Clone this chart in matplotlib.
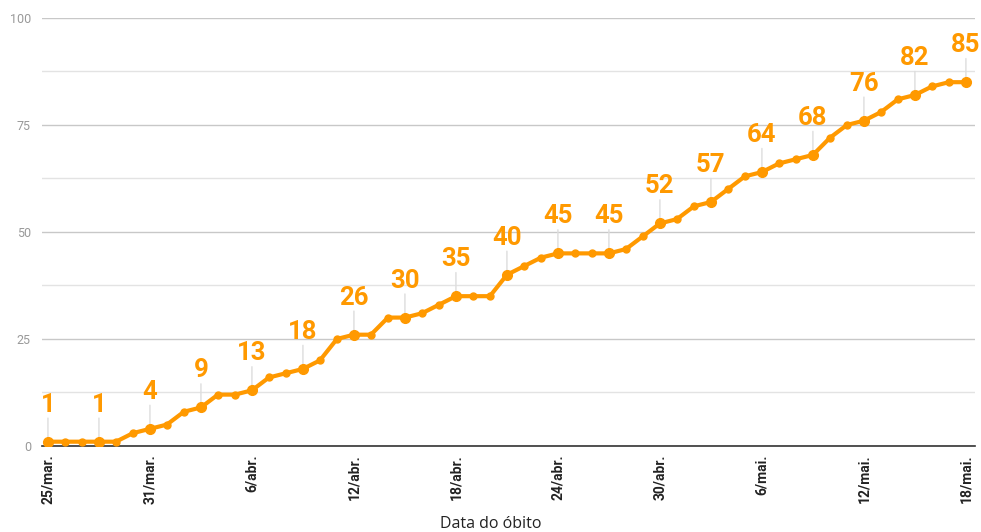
import matplotlib.pyplot as plt
from matplotlib.ticker import MultipleLocator

# Óbitos acumulados por dia (25/mar. a 18/mai.)
obitos = [1, 1, 1, 1, 1, 3, 4, 5, 8, 9,
          12, 12, 13, 16, 17, 18, 20, 25, 26, 26,
          30, 30, 31, 33, 35, 35, 35, 40, 42, 44,
          45, 45, 45, 45, 46, 49, 52, 53, 56, 57,
          60, 63, 64, 66, 67, 68, 72, 75, 76, 78,
          81, 82, 84, 85, 85]
rotulos_x = ['25/mar.', '31/mar.', '6/abr.', '12/abr.', '18/abr.',
             '24/abr.', '30/abr.', '6/mai.', '12/mai.', '18/mai.']
passo_rotulo = 3   # um rótulo de valor a cada 3 dias
passo_data = 6     # uma data a cada 6 dias

laranja = '#FF9900'
dias = list(range(len(obitos)))

fig = plt.figure(figsize=(9.81, 5.32), dpi=100)
ax = fig.add_axes([0.0428, 0.1617, 0.951, 0.8045])

ax.plot(dias, obitos, color=laranja, lw=3, marker='o', ms=5, zorder=3,
        solid_capstyle='round')
marcados = dias[::passo_rotulo]
ax.plot(marcados, [obitos[i] for i in marcados], ls='none', marker='o',
        ms=7, color=laranja, zorder=4)

# rótulos de valor com linha guia
for i in marcados:
    ax.annotate('', xy=(i, obitos[i]), xytext=(0, 17), textcoords='offset points',
                arrowprops=dict(arrowstyle='-', color='#dddddd', lw=1,
                                shrinkA=0, shrinkB=0), zorder=2)
    ax.annotate(str(obitos[i]), xy=(i, obitos[i]), xytext=(0, 18),
                textcoords='offset points', ha='center', va='bottom',
                fontsize=18.5, fontweight='bold', family='Roboto',
                color=laranja, zorder=5)

ax.set_xlim(-0.35, 54.53)
ax.set_ylim(0, 100)
ax.yaxis.set_major_locator(MultipleLocator(25))
ax.yaxis.set_minor_locator(MultipleLocator(12.5))
ax.grid(axis='y', which='major', color='#c8c8c8', lw=1)
ax.grid(axis='y', which='minor', color='#e3e3e3', lw=1)
ax.set_axisbelow(True)

ax.set_xticks(dias[::passo_data])
ax.set_xticklabels(rotulos_x, rotation=90, fontsize=10, fontweight='bold',
                   family='Roboto', color='#222222', va='top')
ax.tick_params(axis='x', length=0, pad=6)
ax.tick_params(axis='y', which='both', length=0, pad=8, labelsize=9,
               labelcolor='#999999')
for lab in ax.get_yticklabels():
    lab.set_family('Roboto')

for lado in ['top', 'right', 'left']:
    ax.spines[lado].set_visible(False)
ax.spines['bottom'].set_color('#333333')
ax.spines['bottom'].set_linewidth(1.2)

fig.text(0.5, 0.0, 'Data do óbito', ha='center', va='bottom',
         fontsize=11.5, family='Open Sans', color='#222222')

fig.savefig('out.png', dpi=100)
